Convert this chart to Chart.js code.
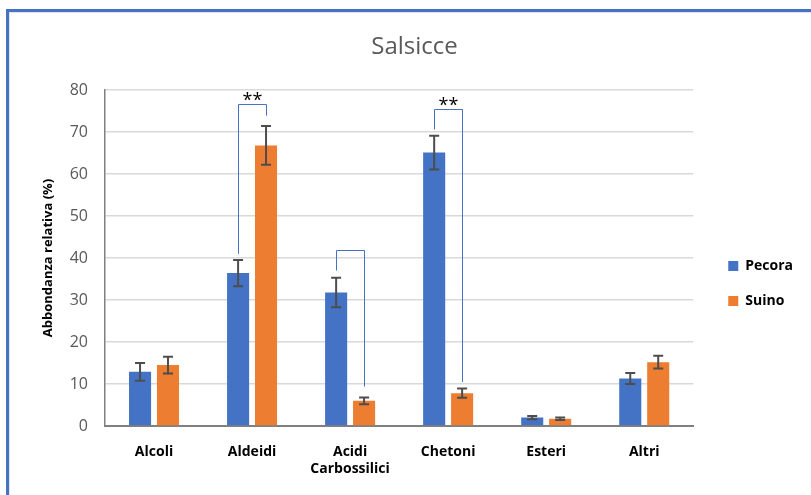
<!DOCTYPE html>
<html>
<head>
<meta charset="utf-8">
<script src="https://cdn.jsdelivr.net/npm/chart.js@4"></script>
<style>
  html, body { margin: 0; padding: 0; background: #fff; }
  #wrap { position: relative; width: 811px; height: 495px; overflow: hidden; }
  #frame {
    position: absolute; left: 6px; top: 9px; width: 820px; height: 500px;
    border-left: 3px solid #4472c4; border-top: 3px solid #4472c4;
    box-shadow: inset 1px 1px 0 #e3e3e3; pointer-events: none;
  }
</style>
</head>
<body>
<div id="wrap">
  <canvas id="chart" width="811" height="495"></canvas>
  <div id="frame"></div>
</div>
<script>
// === Data ===
const categories = ["Alcoli", "Aldeidi", ["Acidi", "Carbossilici"], "Chetoni", "Esteri", "Altri"];
const pecora = [12.9, 36.4, 31.8, 65.1, 2.0, 11.3];
const suino = [14.5, 66.8, 6.0, 7.8, 1.7, 15.2];
const pecoraErr = [2.1, 3.1, 3.5, 4.0, 0.4, 1.3];
const suinoErr = [2.0, 4.6, 0.8, 1.1, 0.3, 1.5];
const yTicks = [0, 10, 20, 30, 40, 50, 60, 70, 80];

// significance brackets (category index, y of left leg end, y of top, y of right leg end)
const bracketCats = [1, 2, 3];
const bracketLeftEnd = [41, 37, 70.6];
const bracketTop = [76.7, 41.9, 75.4];
const bracketRightEnd = [73.9, 9.4, 10.5];
const bracketStars = ["**", "", "**"];

const errors = [pecoraErr, suinoErr];

// === Error bars ===
const errorBarPlugin = {
  id: "errorBars",
  afterDatasetsDraw(chart) {
    const ctx = chart.ctx;
    const y = chart.scales.y;
    ctx.save();
    ctx.strokeStyle = "#4d4d4d";
    ctx.lineWidth = 2;
    chart.data.datasets.forEach((ds, di) => {
      const meta = chart.getDatasetMeta(di);
      meta.data.forEach((bar, i) => {
        const v = ds.data[i];
        const e = errors[di][i];
        const top = y.getPixelForValue(v + e);
        const bot = y.getPixelForValue(v - e);
        ctx.beginPath();
        ctx.moveTo(bar.x, top); ctx.lineTo(bar.x, bot);
        ctx.moveTo(bar.x - 5, top); ctx.lineTo(bar.x + 5, top);
        ctx.moveTo(bar.x - 5, bot); ctx.lineTo(bar.x + 5, bot);
        ctx.stroke();
      });
    });
    ctx.restore();
  }
};

// === Significance brackets ===
const bracketPlugin = {
  id: "brackets",
  afterDatasetsDraw(chart) {
    const ctx = chart.ctx;
    const y = chart.scales.y;
    const left = chart.getDatasetMeta(0).data;
    const right = chart.getDatasetMeta(1).data;
    ctx.save();
    bracketCats.forEach((c, k) => {
      const x1 = Math.round(left[c].x) + 0.5;
      const x2 = Math.round(right[c].x) + 0.5;
      const yTop = Math.round(y.getPixelForValue(bracketTop[k])) + 0.5;
      ctx.strokeStyle = "#4472c4";
      ctx.lineWidth = 1;
      ctx.beginPath();
      ctx.moveTo(x1, y.getPixelForValue(bracketLeftEnd[k]));
      ctx.lineTo(x1, yTop);
      ctx.lineTo(x2, yTop);
      ctx.lineTo(x2, y.getPixelForValue(bracketRightEnd[k]));
      ctx.stroke();
      if (bracketStars[k]) {
        ctx.fillStyle = "#000";
        ctx.font = "18px 'Open Sans'";
        ctx.textAlign = "center";
        ctx.textBaseline = "alphabetic";
        ctx.fillText(bracketStars[k], (x1 + x2) / 2, yTop + 1);
      }
    });
    ctx.restore();
  }
};

// push the legend a bit further right, away from the plot
const legendShift = {
  id: "legendShift",
  afterLayout(chart) {
    chart.legend.left += 14;
    chart.legend.right += 14;
  }
};

new Chart(document.getElementById("chart"), {
  type: "bar",
  data: {
    labels: categories,
    datasets: [
      { label: "Pecora", data: pecora, backgroundColor: "#4472c4" },
      { label: "Suino", data: suino, backgroundColor: "#ed7d31" }
    ]
  },
  options: {
    responsive: false,
    animation: false,
    categoryPercentage: 0.57,
    barPercentage: 0.79,
    layout: { padding: { top: 20, left: 40, right: 22, bottom: 8 } },
    scales: {
      x: {
        grid: { display: false },
        border: { color: "#808080", width: 2 },
        ticks: { color: "#000", padding: 10, font: { family: "Open Sans", size: 14, weight: "bold" } },
        afterFit(s) { s.height = 61; }
      },
      y: {
        min: 0, max: 80,
        afterBuildTicks(s) { s.ticks = yTicks.map(v => ({ value: v })); },
        grid: { color: "#d9d9d9", lineWidth: 1.5, drawTicks: false },
        border: { color: "#808080", width: 1.5 },
        ticks: { color: "#595959", padding: 17, font: { family: "Open Sans", size: 16 } },
        title: {
          display: true, text: "Abbondanza relativa (%)", color: "#000",
          font: { family: "Open Sans", size: 13, weight: "bold" }, padding: 0
        },
        afterFit(s) { s.width = 65; }
      }
    },
    plugins: {
      title: {
        display: true, text: "Salsicce", color: "#595959",
        font: { family: "Open Sans", size: 24, weight: "normal" },
        padding: { top: 12.6, bottom: 28.6 }
      },
      legend: {
        position: "right",
        title: { display: true, text: " ", padding: { top: 30, bottom: 29 }, font: { size: 1 } },
        labels: {
          color: "#000", boxWidth: 10, boxHeight: 10, padding: 21,
          font: { family: "Open Sans", size: 14, weight: "bold" }
        }
      },
      tooltip: { enabled: false }
    }
  },
  plugins: [errorBarPlugin, bracketPlugin, legendShift]
});
</script>
</body>
</html>
